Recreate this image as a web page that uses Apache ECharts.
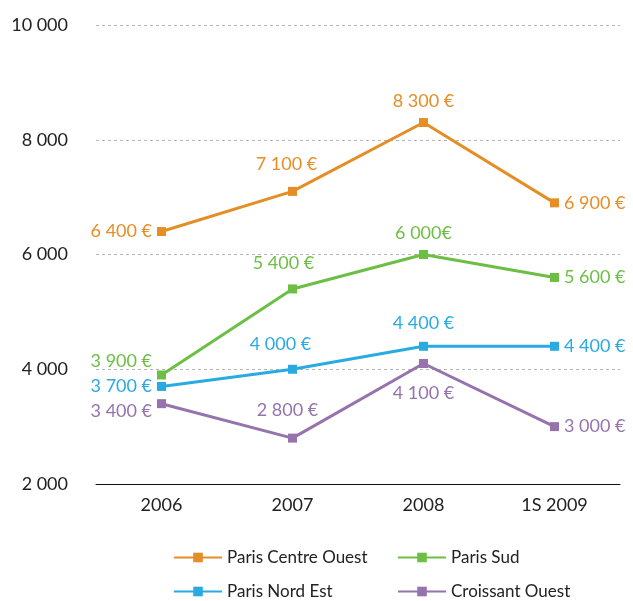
<!DOCTYPE html>
<html>
<head>
<meta charset="utf-8">
<script src="https://cdn.jsdelivr.net/npm/echarts@6/dist/echarts.min.js"></script>
<style>
  html, body { margin: 0; padding: 0; background: #fff; }
  #main { width: 633px; height: 601px; }
</style>
</head>
<body>
<div id="main"></div>
<script>
var categories = ["2006", "2007", "2008", "1S 2009"];
var centreOuest = [6400, 7100, 8300, 6900];
var parisSud = [3900, 5400, 6000, 5600];
var nordEst = [3700, 4000, 4400, 4400];
var croissantOuest = [3400, 2800, 4100, 3000];
var yTicks = [2000, 4000, 6000, 8000, 10000];

var chartDom = document.getElementById("main");
var myChart = echarts.init(chartDom);

var FONT = "Lato";
var LABEL_SIZE = 18;

function fmt(v) {
  return String(v).replace(/\B(?=(\d{3})+(?!\d))/g, " ");
}

// per-point label placement
function points(values, places, color, noSpace) {
  return values.map(function (v, i) {
    var p = places[i];
    return {
      value: v,
      label: {
        show: true,
        position: p[0],
        offset: p[1] || [0, 0],
        distance: p[2] != null ? p[2] : 8,
        color: color,
        fontFamily: FONT,
        fontSize: LABEL_SIZE,
        formatter: function (d) {
          return fmt(d.value) + (noSpace && noSpace[i] ? "€" : " €");
        },
      },
    };
  });
}

function makeSeries(name, color, values, places, noSpace) {
  return {
    name: name,
    type: "line",
    symbol: "rect",
    symbolSize: 9,
    color: color,
    lineStyle: { width: 3, color: color },
    itemStyle: { color: color },
    data: points(values, places, color, noSpace),
  };
}

function legendItem(name, left, top) {
  return {
    left: left,
    top: top,
    itemWidth: 48,
    itemHeight: 12,
    itemGap: 8,
    textStyle: { fontSize: 17, color: "#222", fontFamily: FONT },
    data: [name],
  };
}

var option;
option = {
  animation: false,
  textStyle: { fontFamily: FONT },
  legend: [
    legendItem("Paris Centre Ouest", 168, 544),
    legendItem("Paris Sud", 392, 544),
    legendItem("Paris Nord Est", 168, 578),
    legendItem("Croissant Ouest", 392, 578),
  ],
  grid: {
    left: 96,
    right: 13,
    top: 25,
    bottom: 117,
  },
  xAxis: {
    type: "category",
    data: categories,
    boundaryGap: true,
    axisLine: { lineStyle: { color: "#111", width: 1 } },
    axisTick: { show: false },
    axisLabel: { color: "#222", fontSize: 18, fontFamily: FONT, margin: 12 },
  },
  yAxis: {
    type: "value",
    min: yTicks[0],
    max: yTicks[yTicks.length - 1],
    interval: 2000,
    axisLine: { show: false },
    axisTick: { show: false },
    axisLabel: {
      color: "#222",
      fontSize: 18,
      fontFamily: FONT,
      margin: 28,
      formatter: function (v) { return fmt(v); },
    },
    splitLine: {
      show: true,
      lineStyle: { color: "#b5b5b5", type: [3, 3], width: 1 },
    },
  },
  series: [
    makeSeries("Paris Centre Ouest", "#E58E26", centreOuest,
      [["left", [0, 0], 5], ["top", [-6, -4], 10], ["top", [0, 0], 8], ["right", [0, 0], 5]]),
    makeSeries("Paris Sud", "#6DBE45", parisSud,
      [["left", [0, -14], 5], ["top", [-9, 0], 12], ["top", [0, 0], 8], ["right", [0, 0], 5]],
      [false, false, true, false]),
    makeSeries("Paris Nord Est", "#29ABE2", nordEst,
      [["left", [0, 0], 5], ["top", [-12, 0], 12], ["top", [0, 0], 10], ["right", [0, 0], 5]]),
    makeSeries("Croissant Ouest", "#9673AE", croissantOuest,
      [["left", [0, 8], 5], ["top", [-5, 0], 14], ["bottom", [0, 0], 16], ["right", [0, 0], 5]]),
  ],
};
option && myChart.setOption(option);
</script>
</body>
</html>
